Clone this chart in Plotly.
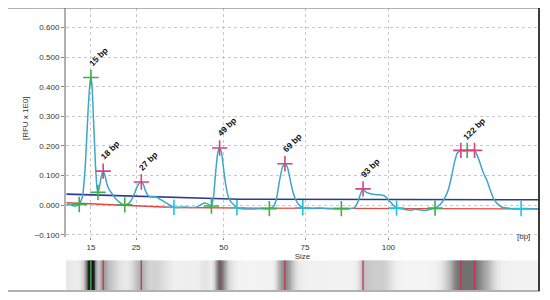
"""Electropherogram with peak calls and virtual gel lane."""

import plotly.graph_objects as go
from plotly.subplots import make_subplots

# Signal trace (x = migration position, y = RFU)
scan_x = [0, 4, 8, 12.7, 16, 19, 21.5, 23.3, 24.3, 25.5, 27, 28.8, 30.3, 31.3, 32.5,
          34.5, 36.5, 38.3, 40, 42, 45, 48, 51, 54, 58, 62, 66, 70, 72.5, 74.5, 76.5,
          79, 82, 84, 87, 90, 93, 98, 103, 107, 112, 118, 124, 130, 134, 137, 140,
          144.3, 146.5, 148.5, 150.5, 152.5, 154.5, 156.5, 158.5, 161, 164, 169.7, 177,
          187, 195, 202, 206, 209, 212, 215, 217.5, 220, 222.5, 225, 228, 231, 235.3,
          242, 252, 262, 273.7, 282, 287, 290, 293, 295.3, 298, 301, 305, 310, 314,
          318, 322, 328.7, 334, 339, 343, 347, 352, 357, 362, 367, 372, 376, 380, 383,
          386, 389, 392.7, 396, 399, 403, 406.3, 409, 412, 415, 418.7, 422, 425.3, 429,
          433.7, 442, 452.7, 462, 470]
rfu = [0.003, 0.001, -0.004, 0.002, 0.03, 0.15, 0.32, 0.41, 0.431, 0.40, 0.28, 0.14,
       0.06, 0.043, 0.055, 0.095, 0.115, 0.10, 0.075, 0.056, 0.04, 0.026, 0.015, 0.007,
       0.001, 0.006, 0.025, 0.06, 0.074, 0.078, 0.07, 0.045, 0.03, 0.028, 0.029, 0.027,
       0.02, 0.01, 0.0, -0.007, -0.008, -0.006, -0.008, -0.006, 0.002, 0.007, 0.005,
       -0.003, 0.03, 0.11, 0.175, 0.193, 0.175, 0.12, 0.07, 0.03, 0.01, -0.009, -0.013,
       -0.013, -0.011, -0.012, -0.005, 0.02, 0.08, 0.128, 0.14, 0.128, 0.09, 0.05, 0.02,
       0.003, -0.009, -0.011, -0.01, -0.012, -0.012, -0.012, -0.008, 0.01, 0.04, 0.055,
       0.045, 0.040, 0.037, 0.035, 0.034, 0.028, 0.012, -0.01, -0.012, -0.016, -0.017,
       -0.014, -0.016, -0.018, -0.014, -0.01, 0.002, 0.02, 0.05, 0.09, 0.14, 0.175,
       0.185, 0.183, 0.185, 0.184, 0.185, 0.168, 0.14, 0.11, 0.083, 0.05, 0.022, 0.005,
       -0.007, -0.011, -0.012, -0.012, -0.013]

# Baselines
base_blue_x = [0, 82, 172, 332, 470]
base_blue_y = [0.037, 0.028, 0.020, 0.019, 0.018]
base_red_x = [0, 58, 107, 192, 332, 470]
base_red_y = [0.008, -0.001, -0.008, -0.010, -0.012, -0.013]

# Peak markers
start_x = [12.7, 24.3, 31.3, 58, 144.3, 202, 273.7, 367, 399]
start_y = [0.002, 0.431, 0.043, 0.001, -0.003, -0.012, -0.012, -0.01, 0.185]
top_x = [36.5, 74.5, 152.5, 217.5, 295.3, 392.7, 406.3]
top_y = [0.115, 0.078, 0.193, 0.14, 0.055, 0.185, 0.185]
end_x = [107, 169.7, 235.3, 328.7, 452.7]
end_y = [-0.007, -0.009, -0.009, -0.01, -0.012]

# Peak labels
label_text = ["15 bp", "18 bp", "27 bp", "49 bp", "69 bp", "93 bp", "122 bp"]
label_x = [24.3, 36.5, 74.5, 152.5, 217.5, 295.3, 399]
label_y = [0.431, 0.115, 0.078, 0.193, 0.14, 0.055, 0.185]

# Gel band lines
gel_red_x = [36.5, 74.5, 152.5, 217.5, 295.3, 392.7, 406.3]
gel_green_x = [24.3]

# Size axis ticks
size_tickvals = [24.3, 69.3, 156.5, 237.5, 320.5]
size_ticktext = ["15", "25", "50", "75", "100"]
rfu_tickvals = [-0.1, 0.0, 0.1, 0.2, 0.3, 0.4, 0.5, 0.6]

font_family = "Liberation Sans, Arial, sans-serif"
text_color = "#333333"
grid_color = "#c8c8c8"

fig = make_subplots(rows=2, cols=1, shared_xaxes=False, vertical_spacing=0)

fig.add_trace(go.Scatter(x=base_red_x, y=base_red_y, mode="lines",
                         line=dict(color="#e5483f", width=1.3), hoverinfo="skip"),
              row=1, col=1)
fig.add_trace(go.Scatter(x=base_blue_x, y=base_blue_y, mode="lines",
                         line=dict(color="#2b3a8f", width=1.6), hoverinfo="skip"),
              row=1, col=1)
fig.add_trace(go.Scatter(x=scan_x, y=rfu, mode="lines",
                         line=dict(color="#3da6c9", width=1.5, shape="spline", smoothing=0.35)),
              row=1, col=1)

for xs, ys, col in [(start_x, start_y, "#3cae4a"), (top_x, top_y, "#d6457a"),
                    (end_x, end_y, "#22c3e0")]:
    fig.add_trace(go.Scatter(x=xs, y=ys, mode="markers",
                             marker=dict(symbol="cross-thin", size=11,
                                         line=dict(color=col, width=1.6))),
                  row=1, col=1)

# Virtual gel lane (two identical rows so it can be smoothed)
fig.add_trace(go.Heatmap(
    x=scan_x, y=[0, 1], z=[rfu, rfu], zmin=-0.015, zmax=0.45, showscale=False,
    zsmooth="best",
    colorscale=[[0, "#f4f4f4"], [0.03, "#ebebeb"], [0.12, "#c8c8c8"],
                [0.33, "#8c8c8c"], [0.44, "#6e6e6e"], [0.7, "#2a2a2a"], [1, "#000000"]],
    hoverinfo="skip"), row=2, col=1)

red_lx, red_ly = [], []
for gx in gel_red_x:
    red_lx += [gx, gx, None]
    red_ly += [0, 1, None]
fig.add_trace(go.Scatter(x=red_lx, y=red_ly, mode="lines",
                         line=dict(color="#c8334f", width=1.3)), row=2, col=1)
green_lx, green_ly = [], []
for gx in gel_green_x:
    green_lx += [gx, gx, None]
    green_ly += [0, 1, None]
fig.add_trace(go.Scatter(x=green_lx, y=green_ly, mode="lines",
                         line=dict(color="#33b04a", width=1.5)), row=2, col=1)

for txt, lx, ly in zip(label_text, label_x, label_y):
    fig.add_annotation(x=lx, y=ly, xref="x", yref="y", text=f"<b>{txt}</b>",
                       showarrow=False, textangle=-45, xshift=7, yshift=21,
                       font=dict(size=8.5, color="#111111"))

# page body has an 8px margin, so the figure is shifted up/left by that much
fig.update_layout(
    width=550, height=300,
    margin=dict(l=58, r=19, t=0, b=17),
    paper_bgcolor="white", plot_bgcolor="white",
    showlegend=False,
    font=dict(family=font_family, size=8, color=text_color),
    xaxis=dict(range=[-0.5, 470.5], domain=[0, 1], tickvals=size_tickvals,
               ticktext=size_ticktext, ticks="outside", ticklen=2, tickcolor="#888",
               showgrid=True, gridcolor=grid_color, griddash="dot", gridwidth=1,
               zeroline=False, showline=False,
               title=dict(text="Size", standoff=1, font=dict(size=8))),
    yaxis=dict(range=[-0.108, 0.666], domain=[0.1905, 1], tickvals=rfu_tickvals,
               tickformat=".3f", ticks="outside", ticklen=3, tickcolor="#888",
               showgrid=True, gridcolor=grid_color, griddash="dot", gridwidth=1,
               zeroline=False, showline=True, linecolor="#b0b0b0", linewidth=2),
    xaxis2=dict(range=[-0.5, 470.5], domain=[0, 1], visible=False),
    yaxis2=dict(range=[0, 1], domain=[0.0035, 0.109], visible=False),
)

# [bp] unit label and y title
fig.add_annotation(x=0.985, y=0.171, xref="paper", yref="paper", text="[bp]",
                   showarrow=False, font=dict(size=8, color=text_color))
fig.add_annotation(x=-0.099, y=0.61, xref="paper", yref="paper", text="[RFU x 1E0]",
                   textangle=-90, showarrow=False, font=dict(size=8, color=text_color))

# Outer frame
fig.add_shape(type="rect", xref="paper", yref="paper", x0=-0.1247, x1=1.0,
              y0=0.0, y1=1.0, line=dict(color="#666666", width=1.2))
fig.add_shape(type="line", xref="paper", yref="paper", x0=1.0, x1=1.0,
              y0=0.0, y1=1.0, line=dict(color="#222222", width=1.6))

fig.write_html("out.html")
